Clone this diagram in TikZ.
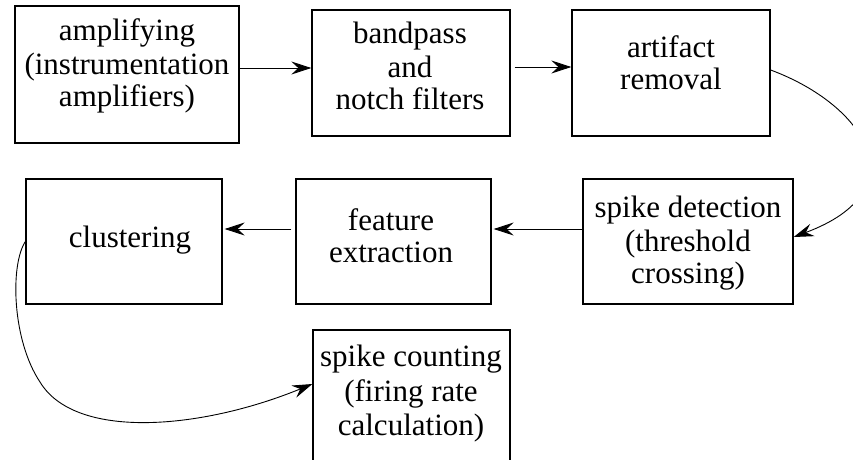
\documentclass[tikz,border=0pt]{standalone}
\usepackage{fontspec}
\setmainfont{Liberation Serif}
\usetikzlibrary{arrows.meta}
\begin{document}
\begin{tikzpicture}[x=1pt,y=-1pt,
  box/.style={draw=black, line width=1.3pt, rectangle, inner sep=0pt},
  lbl/.style={align=center, inner sep=0pt, font=\fontsize{31}{32}\selectfont},
  conn/.style={line width=0.9pt, -{Stealth[length=20pt,width=13pt,inset=7pt]}}]
\useasboundingbox (0,0) rectangle (853,459);
\clip (0,0) rectangle (853,459);

% processing stages
\node[box, minimum width=224pt, minimum height=137pt] (amp) at (127,74.5) {};
\node[box, minimum width=198pt, minimum height=126pt] (bp)  at (411,73) {};
\node[box, minimum width=198pt, minimum height=126pt] (ar)  at (671,73) {};
\node[box, minimum width=210pt, minimum height=125pt] (sd)  at (688,241.5) {};
\node[box, minimum width=195pt, minimum height=125pt] (fe)  at (393.5,241.5) {};
\node[box, minimum width=196pt, minimum height=125pt] (cl)  at (124,241.5) {};
\node[box, minimum width=197pt, minimum height=140pt] (sc)  at (411.5,400) {};

% stage captions
\node[lbl] (tamp) at (127,66) {amplifying\\[2pt](instrumentation\\amplifiers)};
\node[lbl] (tbp)  at (410,66) {bandpass\\[2pt]and\\notch filters};
\node[lbl] (tar)  at (671,63) {artifact\\removal};
\node[lbl] (tsd)  at (688,243) {spike detection\\[2pt](threshold\\crossing)};
\node[lbl] (tfe)  at (391,236) {feature\\extraction};
\node[lbl] (tcl)  at (130,240) {clustering};
\node[lbl] (tsc)  at (411,394) {spike counting\\[3pt](firing rate\\[2pt]calculation)};

% connectors
\draw[conn] ([yshift=6.5pt]amp.east) -- ([yshift=6.5pt]amp.east -| bp.west);
\draw[conn] ([xshift=4pt,yshift=6pt]bp.east) -- ([yshift=6pt]bp.east -| ar.west);
\draw[conn] ([yshift=12.5pt]sd.west) -- ([xshift=2pt,yshift=12.5pt]fe.east);
\draw[conn] ([xshift=-4pt,yshift=12.5pt]fe.west) -- ([xshift=2pt,yshift=12.5pt]cl.east);
\draw[conn] ([yshift=3pt]ar.east) .. controls (865,105) and (920,190) .. ([yshift=4.5pt]sd.east);
\draw[conn] (cl.west) .. controls (10,265) and (12,340) .. (40,382)
  .. controls (75,440) and (200,430) .. ([yshift=16pt]sc.west);
\end{tikzpicture}
\end{document}
